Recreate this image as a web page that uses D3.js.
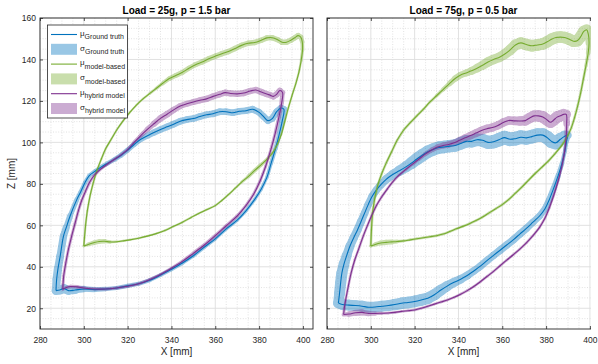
<!DOCTYPE html>
<html>
<head>
<meta charset="utf-8">
<script src="https://cdn.jsdelivr.net/npm/d3@7"></script>
<style>
  body { margin: 0; background: #fff; }
  svg { font-family: "Liberation Sans", Arial, sans-serif; }
  .tick text { fill: #262626; font-size: 8.5px; }
  .tick line { stroke: #262626; stroke-width: 0.8; }
</style>
</head>
<body>
<svg id="chart" width="598" height="364"></svg>
<script>
// each point: [x mm, z mm, sigma mm]
const titles = ['Load = 25g, p = 1.5 bar', 'Load = 75g, p = 0.5 bar'];
const seriesNames = ['Ground truth', 'model-based', 'hybrid model'];
const xTicks = [280, 300, 320, 340, 360, 380, 400];
const zTicks = [20, 40, 60, 80, 100, 120, 140, 160];

// ---- Load = 25g ----
const gt25 = [
  [287.3,28.5,2.0],[289,28.8,2.2],[291,29.5,2.2],[293,28.5,2.0],[296,28.8,1.8],[300,29.3,1.4],
  [305,29.0,1.2],[310,29.3,1.0],[315,29.8,1.0],[320,30.8,1.0],[325,31.8,1.0],[330,33.5,0.9],
  [335,36,0.9],[340,38.8,0.9],[345,41.8,0.9],[350,45.3,0.9],[355,49.5,0.9],[360,53.5,0.8],
  [365,58.3,0.8],[370,62.5,0.8],[374,67,0.8],[378,72.5,0.8],[381,77.5,0.8],[383.5,83,0.8],
  [385.5,90,0.9],[387.5,97,1.0],[389.2,104,1.1],[390.5,110,1.3],[391.3,116,1.5],
  [390,116.6,1.6],[388,114.8,1.6],[386,111.5,1.6],[384,110.5,1.6],[382,112.5,1.6],[380,114.5,1.6],
  [377,116,1.6],[374,115.3,1.6],[371,115,1.6],[368,114.3,1.6],[365,114.8,1.6],[362,114.8,1.6],
  [359,113.8,1.6],[356,113.3,1.6],[353,112.5,1.6],[350,111.5,1.6],[347,111,1.6],[344,110.2,1.6],
  [341,108.8,1.6],[338,107.5,1.6],[335,106.2,1.6],[332,104.8,1.5],[329,103.2,1.4],[326,101.5,1.3],
  [323,99,1.2],[320,96.3,1.2],[317,93.8,1.2],[314,91.8,1.1],[311,90,1.0],[308,88.2,1.0],
  [305,86,1.0],[302.5,84,1.0],[300.5,80.5,1.0],[298.5,76,1.0],[296.8,72.4,1.1],[293.7,64.4,1.3],
  [292,59,1.6],[290.7,54.7,1.8],[289.2,45,1.8],[288.2,39,2.0],[287.6,34,2.0],[287.3,28.5,2.0]
];
const mb25 = [
  [300,50,0.5],[302,50.8,0.8],[304.5,51.6,1.1],[307,52.2,1.2],[309.5,52.3,1.0],[312,52,0.7],
  [315,52.1,0.5],[318,52.5,0.5],[321,53,0.5],[325,53.8,0.5],[329,54.8,0.5],[333,56,0.5],
  [337,57.5,0.5],[341,59.5,0.5],[345,61.5,0.5],[349,63.8,0.5],[352,65.5,0.5],[356,67.5,0.5],
  [360,69.5,0.5],[363,72,0.5],[366,74.8,0.5],[369,77.8,0.5],[372,80.8,0.6],[375,83.5,0.8],
  [378,86.5,1.0],[381,89.3,0.9],[384,92.3,0.7],[386.5,95.5,0.6],[388.5,99.5,0.5],[390.2,104,0.5],
  [391.7,110,0.5],[393.3,116.5,0.5],[395,122.5,0.5],[396.8,128.5,0.5],[398.2,134,0.5],
  [399.2,139.5,0.6],[399.8,144.5,0.8],[399.7,148.5,1.0],[399,150.8,1.2],[397.8,151.5,1.3],
  [396.3,150.5,1.3],[394.5,149.3,1.3],[392.5,148.3,1.3],[390.5,148.3,1.3],[388.5,149.5,1.3],
  [386,150.5,1.3],[383.5,150.4,1.3],[381,149.3,1.3],[378,148.2,1.3],[375,147.8,1.3],
  [372,146.8,1.3],[369,145.3,1.3],[366,143.8,1.3],[363,142.8,1.3],[360,141.6,1.3],
  [357,140.3,1.3],[354,138.8,1.3],[351,137.5,1.2],[348,135.8,1.2],[345,133.8,1.2],
  [342,132.3,1.2],[339,130.8,1.1],[336,128.5,0.9],[333,126,0.7],[330,123.5,0.6],[327,121,0.5],
  [324,118,0.5],[321,114.5,0.5],[318,110.5,0.5],[315,106,0.5],[312.5,101.5,0.5],[310,97,0.5],
  [308,92,0.5],[306,86.5,0.5],[304.3,80.5,0.5],[302.8,74,0.5],[301.6,67,0.5],[300.8,60,0.5],
  [300.3,54,0.5],[300,50,0.5]
];
const hy25 = [
  [290.4,29.2,0.7],[292,30,0.8],[294,30.5,0.9],[297,30.3,0.9],[300,29.8,0.8],[305,29.3,0.7],
  [310,29.3,0.7],[315,29.8,0.7],[320,30.6,0.7],[325,31.8,0.7],[330,33.8,0.7],[335,36.3,0.7],
  [340,39.3,0.7],[345,42.6,0.8],[350,46.5,0.9],[355,50.5,0.9],[360,55,0.8],[365,59.8,0.8],
  [370,64.5,0.7],[374,69.5,0.7],[377.5,75,0.7],[380.5,81.5,0.7],[383,88.5,0.7],[385.5,97,0.7],
  [387.5,105,0.8],[389,112,0.9],[390.3,119,1.0],[390.7,124,1.2],
  [389.5,125,1.4],[388,123.2,1.5],[386.5,122.2,1.5],[385,122.8,1.5],[383.5,123.3,1.5],
  [381,124.3,1.5],[378.5,125.3,1.5],[376,124.8,1.5],[373,123.8,1.5],[370,123.4,1.5],
  [367,123.6,1.5],[364.5,124,1.5],[362,123.2,1.5],[359,122.2,1.5],[356,121,1.5],[353,120.3,1.5],
  [350,119.5,1.4],[347,118.6,1.4],[344,117.5,1.4],[341,115.7,1.5],[338,113.6,1.6],[335,111.6,1.6],
  [332,109,1.4],[329,106.3,1.2],[326,103.3,1.0],[323,100,0.8],[320,96.5,0.7],[317,94,0.7],
  [313.5,91.5,0.7],[310,89,0.7],[307,86.5,0.7],[304.5,83.8,0.7],[302.5,80.5,0.7],[300.8,76.5,0.7],
  [299,72,0.7],[297.5,67,0.7],[296,61,0.7],[294.5,55,0.7],[293,48.5,0.7],[291.8,42,0.7],
  [290.8,35.5,0.7],[290.4,29.2,0.7]
];

// ---- Load = 75g ----
const gt75 = [
  [285.2,22.5,2.5],[287,21.8,2.6],[290,21.5,2.6],[293,21.3,2.6],[296,21,2.6],[299,20.5,2.6],
  [302,20.6,2.6],[305,21,2.6],[308,21.3,2.6],[311,21.8,2.7],[314,22.4,2.8],[317,22.8,2.8],
  [320,23.3,2.8],[323,24,2.8],[326,24.8,2.8],[329,26.5,2.7],[332,28.8,2.6],[335,30.8,2.4],
  [338,32.5,2.2],[341,34,2.0],[344,35.8,1.9],[347,38,1.8],[350,40.3,1.8],[353,43,1.8],
  [356,45.5,1.8],[359,48,1.8],[362,50.5,1.8],[365,53,1.8],[368,55.8,1.8],[371,58.5,1.8],
  [374,61.5,1.7],[377,64.5,1.6],[379.5,68,1.6],[381.5,72.5,1.5],[383.5,78,1.4],[385.5,84,1.2],
  [387.3,90,1.0],[388.6,96,0.9],[389.4,101,1.0],[389.8,103.5,1.5],
  [388.5,103,2.5],[386.5,101.5,3.0],[384.5,99.8,3.2],[382.5,100.5,3.3],[380.5,102.3,3.3],
  [378.5,103.5,3.3],[376,103.5,3.3],[373.5,102.8,3.3],[371,102.2,3.3],[368.5,102.5,3.3],
  [366,101.8,3.3],[363.5,101.5,3.3],[361,102.3,3.3],[358.5,101.3,3.3],[356,100.3,3.2],
  [353.5,100,3.2],[351,101,3.1],[348.5,101.3,3.0],[346,100.5,3.0],[343.5,100.5,3.0],
  [341,99.5,3.0],[338.5,98.5,3.0],[336,98.2,3.0],[333.5,97.8,3.0],[331,97.5,3.0],[328.5,96.6,3.0],
  [326,95.5,3.0],[323.5,93.8,3.0],[321,92,3.0],[318.5,90,2.8],[316,88.2,2.6],[313,86.3,2.4],
  [310,84.5,2.2],[307,82.2,2.0],[304.5,79.5,1.8],[302.5,77,1.8],[300.5,73.8,1.8],[298.8,70,1.8],
  [297.2,66,1.8],[295.6,62,1.9],[294,58,2.0],[292.2,54,2.0],[290.5,50,2.1],[289,45.5,2.3],
  [287.8,41.5,2.5],[286.8,37,2.7],[286.2,32,2.7],[285.7,27,2.6],[285.2,22.5,2.5]
];
const mb75 = [
  [300,50,0.6],[302,50.8,0.9],[304.5,51.5,1.2],[307,51.8,1.3],[309.5,52,1.1],[312,52.2,0.8],
  [315,52.5,0.6],[318,53,0.6],[321,53.5,0.6],[324,54,0.6],[327,54.5,0.6],[330,55,0.6],
  [333,55.8,0.6],[336,57,0.6],[339,58.3,0.6],[342,59.5,0.6],[345,60.8,0.6],[348,62.3,0.6],
  [351,64,0.6],[354,66,0.6],[357,68,0.6],[360,70,0.6],[363,72.5,0.6],[366,75.5,0.6],
  [369,78.5,0.6],[372,81.8,0.6],[375,85,0.6],[378,88,0.6],[381,91,0.6],[384,94.5,0.6],
  [387,98.3,0.6],[389.5,102.5,0.6],[391.5,107,0.6],[393,112,0.6],[394.5,118,0.6],[395.8,124,0.6],
  [397,130.5,0.6],[398.2,137,0.7],[399.2,143,0.9],[399.6,148,1.3],[399.3,152,2.0],[398.5,154.3,2.5],
  [397.2,153.5,2.8],[395.8,151,2.8],[394.2,149,2.8],[392.5,148.8,2.8],[390.5,149.8,2.8],
  [388.5,150.6,2.8],[386.5,150.8,2.8],[384.5,150.6,2.8],[382.5,149.8,2.8],[380.5,148.5,2.8],
  [378.5,147.5,2.8],[376,147,2.8],[373.5,146.6,2.8],[371,147.2,2.8],[368.5,148,2.7],
  [366,147,2.6],[363.5,144.5,2.5],[361,142.5,2.4],[358.5,141,2.3],[356,140,2.3],[353.5,138.8,2.3],
  [351,137.2,2.2],[348.5,135.8,2.0],[346,134.5,1.8],[343.5,133.5,1.6],[341,132.5,1.6],
  [338.5,130.8,1.5],[336,128.5,1.2],[333,125.5,0.9],[330,122.5,0.7],[327,119.5,0.6],[324,116,0.6],
  [321,112.8,0.6],[318,109.5,0.6],[315,106,0.6],[312,101,0.6],[309.5,95.5,0.6],[307,90,0.6],
  [305,85,0.6],[303.2,79.5,0.6],[301.8,73,0.6],[300.8,66,0.6],[300.3,58,0.6],[300,50,0.6]
];
const hy75 = [
  [287.6,17,0.8],[290,17.2,1.2],[293,17.8,1.5],[296,18,1.5],[299,17.5,1.2],[302,17.5,0.9],
  [305,17.6,0.7],[308,17.7,0.6],[311,18,0.6],[314,18.5,0.6],[317,18.8,0.6],[320,19.2,0.6],
  [323,20,0.6],[326,21,0.6],[329,22,0.6],[332,23,0.6],[335,24,0.6],[338,25.3,0.6],[341,26.8,0.6],
  [344,28.5,0.6],[347,30.5,0.6],[350,32.8,0.6],[353,35.3,0.6],[356,37.8,0.6],[359,40.5,0.6],
  [362,43.2,0.6],[365,45.8,0.6],[368,48.5,0.6],[371,51.5,0.6],[374,55,0.6],[377,59,0.6],
  [379.5,63.5,0.6],[381.5,68.5,0.6],[383.5,74.5,0.6],[385.5,81.5,0.6],[387.2,88.5,0.6],
  [388.5,96,0.6],[389.2,103,0.7],[389.4,109,1.2],[389.2,113.5,2.0],
  [388,113.5,2.6],[386.5,112.8,2.8],[385,112.2,2.8],[383.5,110.8,2.8],[382,109.7,2.8],
  [380.5,110.8,2.8],[378.5,112.3,2.8],[376.5,112.8,2.8],[374.5,112.8,2.6],[372.5,111.8,2.5],
  [370.5,110.5,2.4],[368,110.3,2.2],[365.5,110.4,2.1],[363,110.6,2.0],[360.5,109.6,2.0],
  [358,108.2,2.0],[355.5,107.2,2.0],[353,106.6,2.0],[350.5,105.7,2.0],[348,104.5,1.9],
  [345.5,103.3,1.8],[343,102.2,1.7],[340.5,101,1.6],[338,99.8,1.5],[335.5,99,1.5],[333,98.5,1.4],
  [330.5,97.8,1.3],[328,96.5,1.1],[325,94.5,1.0],[322,92,0.8],[319,89.5,0.7],[316,87,0.6],
  [313,84.3,0.6],[310,81,0.6],[307.5,77.5,0.6],[305,73.8,0.6],[302.5,69.5,0.6],[300.3,64.5,0.6],
  [298.3,59.5,0.6],[296.5,54.7,0.6],[294.6,49,0.6],[292.7,43.4,0.6],[291,37,0.6],[289.7,30.5,0.6],
  [288.6,24.5,0.6],[287.9,20,0.6],[287.6,17,0.8]
];

const colors = ['#0072BD', '#77AC30', '#7E2F8E'];
const axisColor = '#262626';

const svg = d3.select('#chart');
const plotTop = 18, plotBottom = 329;

// the original figure is cropped a few px right of the 400 tick
svg.append('clipPath').attr('id', 'pageclip').append('rect')
  .attr('x', 0).attr('y', 0).attr('width', 591).attr('height', 364);

const panels = [
  { title: titles[0], left: 40, right: 313, curves: [gt25, mb25, hy25], zLabels: true },
  { title: titles[1], left: 327, right: 600, curves: [gt75, mb75, hy75], zLabels: false }
];

// band drawn as a chain of round-capped strokes, width = 2 sigma
function drawBand(g, pts, x, y, color) {
  const k = Math.abs(y(1) - y(0));
  const band = g.append('g').attr('opacity', 0.4);
  for (let i = 0; i < pts.length - 1; i++) {
    const a = pts[i], b = pts[i + 1];
    band.append('line')
      .attr('x1', x(a[0])).attr('y1', y(a[1]))
      .attr('x2', x(b[0])).attr('y2', y(b[1]))
      .attr('stroke', color)
      .attr('stroke-width', (a[2] + b[2]) * k)
      .attr('stroke-linecap', 'round');
  }
}

panels.forEach((p, pi) => {
  const x = d3.scaleLinear().domain([280, 404.6]).range([p.left, p.right]);
  const y = d3.scaleLinear().domain([10, 160]).range([plotBottom, plotTop]);
  const outer = svg.append('g');
  const g = outer.append('g').attr('clip-path', 'url(#pageclip)');

  g.append('rect')
    .attr('x', p.left).attr('y', plotTop)
    .attr('width', p.right - p.left).attr('height', plotBottom - plotTop)
    .attr('fill', '#fff');

  // minor grid
  const xMinor = d3.range(285, 404.6, 5).filter(v => v % 20 !== 0);
  const zMinor = d3.range(15, 160, 5).filter(v => v % 20 !== 0);
  g.selectAll('.xminor').data(xMinor).join('line')
    .attr('x1', d => x(d)).attr('x2', d => x(d))
    .attr('y1', plotTop).attr('y2', plotBottom)
    .attr('stroke', '#cfcfcf').attr('stroke-width', 0.6).attr('stroke-dasharray', '1,1.6');
  g.selectAll('.zminor').data(zMinor).join('line')
    .attr('y1', d => y(d)).attr('y2', d => y(d))
    .attr('x1', p.left).attr('x2', p.right)
    .attr('stroke', '#cfcfcf').attr('stroke-width', 0.6).attr('stroke-dasharray', '1,1.6');

  // major grid
  g.selectAll('.xgrid').data(xTicks).join('line')
    .attr('x1', d => x(d)).attr('x2', d => x(d))
    .attr('y1', plotTop).attr('y2', plotBottom)
    .attr('stroke', '#dedede').attr('stroke-width', 0.9);
  g.selectAll('.zgrid').data(zTicks).join('line')
    .attr('y1', d => y(d)).attr('y2', d => y(d))
    .attr('x1', p.left).attr('x2', p.right)
    .attr('stroke', '#dedede').attr('stroke-width', 0.9);

  // data
  const clipId = 'clip' + pi;
  svg.append('clipPath').attr('id', clipId).append('rect')
    .attr('x', p.left).attr('y', plotTop)
    .attr('width', p.right - p.left).attr('height', plotBottom - plotTop);
  const plot = g.append('g').attr('clip-path', `url(#${clipId})`);

  p.curves.forEach((c, i) => drawBand(plot, c, x, y, colors[i]));

  const line = d3.line()
    .x(d => x(d[0]))
    .y(d => y(d[1]))
    .curve(d3.curveCatmullRom.alpha(0.5));
  p.curves.forEach((c, i) => {
    plot.append('path')
      .datum(c)
      .attr('d', line)
      .attr('fill', 'none')
      .attr('stroke', colors[i])
      .attr('stroke-width', 1.1);
  });

  // axes, ticks pointing inward
  outer.append('g')
    .attr('transform', `translate(0,${plotBottom})`)
    .call(d3.axisBottom(x).tickValues(xTicks).tickSizeInner(-3).tickSizeOuter(0).tickPadding(8))
    .call(a => a.select('.domain').remove());
  g.append('g')
    .attr('transform', `translate(0,${plotTop})`)
    .call(d3.axisTop(x).tickValues(xTicks).tickSizeInner(-3).tickSizeOuter(0).tickFormat(''))
    .call(a => a.select('.domain').remove());
  outer.append('g')
    .attr('transform', `translate(${p.left},0)`)
    .call(d3.axisLeft(y).tickValues(zTicks).tickSizeInner(-3).tickSizeOuter(0).tickPadding(4)
      .tickFormat(p.zLabels ? d3.format('d') : ''))
    .call(a => a.select('.domain').remove());
  g.append('g')
    .attr('transform', `translate(${p.right},0)`)
    .call(d3.axisRight(y).tickValues(zTicks).tickSizeInner(-3).tickSizeOuter(0).tickFormat(''))
    .call(a => a.select('.domain').remove());
  outer.selectAll('.tick text').attr('font-family', null).attr('font-size', null);

  g.append('rect')
    .attr('x', p.left).attr('y', plotTop)
    .attr('width', p.right - p.left).attr('height', plotBottom - plotTop)
    .attr('fill', 'none').attr('stroke', axisColor).attr('stroke-width', 0.9);

  // labels
  const cx = (p.left + p.right) / 2;
  outer.append('text')
    .attr('x', cx).attr('y', 14)
    .attr('text-anchor', 'middle')
    .attr('font-size', 10).attr('font-weight', 'bold').attr('fill', '#000')
    .text(p.title);
  outer.append('text')
    .attr('x', cx).attr('y', 355)
    .attr('text-anchor', 'middle')
    .attr('font-size', 10).attr('fill', axisColor)
    .text('X [mm]');
  if (p.zLabels) {
    outer.append('text')
      .attr('transform', `translate(15,${(plotTop + plotBottom) / 2}) rotate(-90)`)
      .attr('text-anchor', 'middle')
      .attr('font-size', 10).attr('fill', axisColor)
      .text('Z [mm]');
  }
});

// legend (left panel)
const legend = svg.append('g');
legend.append('rect')
  .attr('x', 47.5).attr('y', 25).attr('width', 80).attr('height', 93)
  .attr('fill', '#fff').attr('stroke', axisColor).attr('stroke-width', 0.8);

const entries = [];
seriesNames.forEach((name, i) => {
  entries.push({ sym: 'μ', name, color: colors[i], kind: 'line' });
  entries.push({ sym: 'σ', name, color: colors[i], kind: 'patch' });
});
entries.forEach((e, i) => {
  const cy = 34.5 + i * 14.8;
  if (e.kind === 'line') {
    legend.append('line')
      .attr('x1', 51).attr('x2', 77).attr('y1', cy).attr('y2', cy)
      .attr('stroke', e.color).attr('stroke-width', 1.1);
  } else {
    legend.append('rect')
      .attr('x', 51).attr('y', cy - 5.5).attr('width', 26).attr('height', 11)
      .attr('fill', e.color).attr('opacity', 0.4);
  }
  const t = legend.append('text')
    .attr('x', 80).attr('y', cy + 1.2)
    .attr('fill', axisColor);
  t.append('tspan').attr('font-size', 8).text(e.sym);
  t.append('tspan').attr('font-size', 7).attr('dy', 3.4).text(e.name);
});
</script>
</body>
</html>
